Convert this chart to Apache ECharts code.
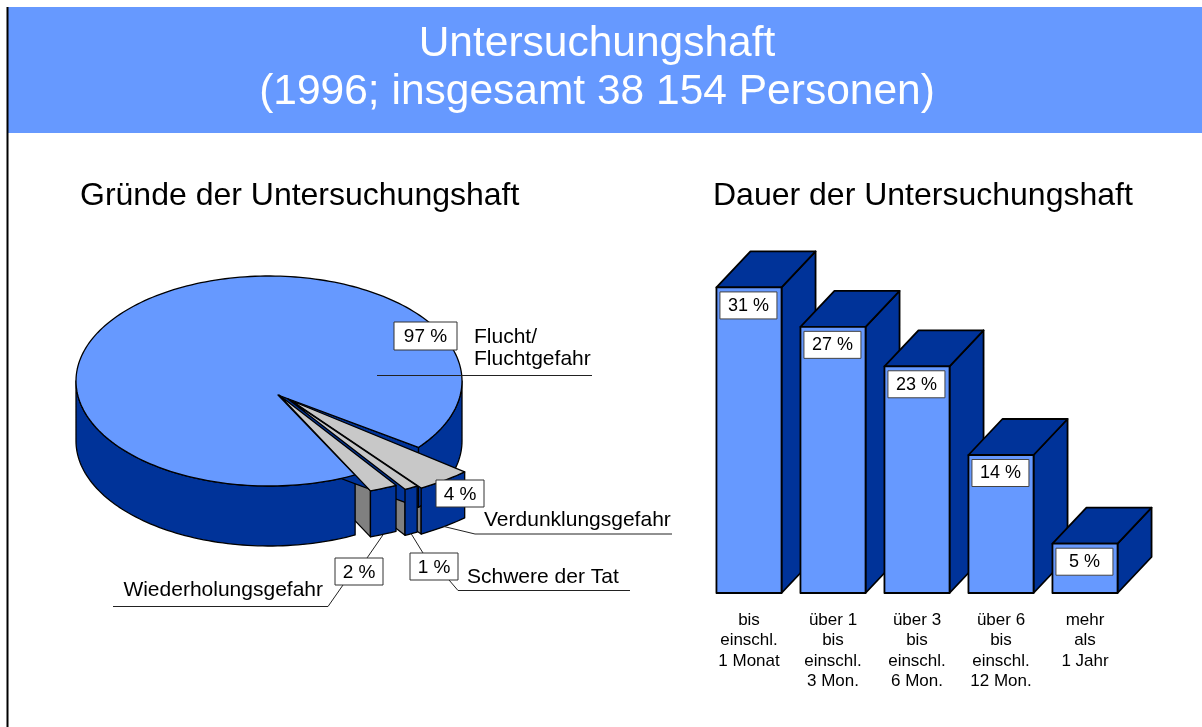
<!DOCTYPE html>
<html>
<head>
<meta charset="utf-8">
<script src="https://cdn.jsdelivr.net/npm/echarts@6/dist/echarts.min.js"></script>
<style>
  html, body { margin: 0; padding: 0; background: #fff; }
  #chart { width: 1202px; height: 727px; }
</style>
</head>
<body>
<div id="chart"></div>
<script>
// --- data ---
const reasonLabels = ['Flucht/\nFluchtgefahr', 'Verdunklungsgefahr', 'Schwere der Tat', 'Wiederholungsgefahr'];
const reasonShares = [97, 4, 1, 2];
const durationLabels = [
  'bis\neinschl.\n1 Monat',
  'über 1\nbis\neinschl.\n3 Mon.',
  'über 3\nbis\neinschl.\n6 Mon.',
  'über 6\nbis\neinschl.\n12 Mon.',
  'mehr\nals\n1 Jahr'
];
const durationShares = [31, 27, 23, 14, 5];

const FONT = '"Liberation Sans", Arial, Helvetica, sans-serif';
const LIGHT = '#6699FF';
const DARK = '#003399';

// --- pie layout (3d look) ---
const pieMain = { cx: 269, cy: 381, rx: 193, ry: 105, depth: 60 };
const pieCut = { cx: 277, cy: 395, rx: 236, ry: 104, depth: 46 };   // pulled-out slices
const explode = [[0, 0], [15, 6], [11, 4], [2, 0]];
const cutRotate = 3.7;
const pieStart = 63.5;

// slice angles from the shares
const pieTotal = reasonShares.reduce((s, v) => s + v, 0);
const sliceAngles = [];
let acc = pieStart;
reasonShares.forEach(v => {
  const span = v / pieTotal * 360;
  sliceAngles.push([acc, acc + span]);
  acc += span;
});

// label boxes / leader lines (layout only)
const pieLabelLayout = [
  { box: [394, 322, 63, 28], toBox: null, tail: [[377, 375.5], [592, 375.5]], text: [474, 348, 'left'] },
  { box: [436, 480, 48, 27], toBox: [475, 534], tail: [[475, 534], [672, 534]], text: [484, 520, 'left'] },
  { box: [410, 553, 48, 27], toBox: [423, 553], tail: [[449, 580], [458, 590.5], [630, 590.5]], text: [467, 577, 'left'] },
  { box: [335, 558, 48, 27], toBox: [367, 558], tail: [[343, 585], [328, 606.5], [113, 606.5]], text: [323, 590, 'right'] }
];

function arc(f, ox, oy, a0, a1, dy) {
  const pts = [];
  const n = Math.max(2, Math.ceil(Math.abs(a1 - a0) / 1.5));
  for (let k = 0; k <= n; k++) {
    const a = (a0 + (a1 - a0) * k / n) * Math.PI / 180;
    pts.push([f.cx + ox + f.rx * Math.cos(a), f.cy + oy + f.ry * Math.sin(a) + dy]);
  }
  return pts;
}

function renderSlice(params, api) {
  const i = params.dataIndex;
  const share = api.value(0);
  const isMain = i === 0;
  const rot = isMain ? 0 : cutRotate;
  const a0 = sliceAngles[i][0] + rot, a1 = sliceAngles[i][1] + rot;
  const f = isMain ? pieMain : pieCut;
  const [ox, oy] = explode[i];
  const topColor = isMain ? LIGHT : '#C8C8C8';
  const cutColor = isMain ? DARK : '#808080';
  const zBase = isMain ? 2 : 5 + i;
  // the main slice's cut meets the tip of the pulled-out group
  const c = isMain ? [pieCut.cx + 1, pieCut.cy] : [f.cx + ox, f.cy + oy];
  const children = [];
  const stroke = { stroke: '#000', lineWidth: 1.3, lineJoin: 'round' };

  // radial cut faces that face the viewer
  const radial = a => {
    const r = a * Math.PI / 180;
    const p = [f.cx + ox + f.rx * Math.cos(r), f.cy + oy + f.ry * Math.sin(r)];
    children.push({
      type: 'polygon', z2: isMain ? 3 : 1,
      shape: { points: [c, p, [p[0], p[1] + f.depth], [c[0], c[1] + f.depth]] },
      style: Object.assign({ fill: cutColor }, stroke)
    });
  };
  if (Math.cos(a1 * Math.PI / 180) > 0) radial(a1);
  if (Math.cos(a0 * Math.PI / 180) < 0) radial(a0);

  // outer curved faces (front half only)
  [-360, 0, 360, 720].forEach(b => {
    const s = Math.max(a0, b), e = Math.min(a1, b + 180);
    if (e > s) {
      children.push({
        type: 'polygon', z2: zBase,
        shape: { points: arc(f, ox, oy, s, e, 0).concat(arc(f, ox, oy, e, s, f.depth)) },
        style: Object.assign({ fill: DARK }, stroke)
      });
    }
  });

  // top face
  children.push({
    type: 'polygon', z2: zBase + (isMain ? 2 : 3),
    shape: { points: [c].concat(arc(f, ox, oy, a0, a1, 0)) },
    style: Object.assign({ fill: topColor }, stroke)
  });

  // label
  const L = pieLabelLayout[i];
  const lineStyle = { stroke: '#222', lineWidth: 1, fill: null };
  if (L.toBox) {
    const m = (a0 + a1) / 2 * Math.PI / 180;
    const anchor = [c[0] + f.rx * Math.cos(m), c[1] + f.ry * Math.sin(m) + f.depth];
    children.push({ type: 'polyline', z2: 50, shape: { points: [anchor, L.toBox] }, style: lineStyle });
  }
  children.push({ type: 'polyline', z2: 50, shape: { points: L.tail }, style: lineStyle });
  children.push({
    type: 'rect', z2: 60,
    shape: { x: L.box[0], y: L.box[1], width: L.box[2], height: L.box[3] },
    style: { fill: '#fff', stroke: '#333', lineWidth: 1 }
  });
  children.push({
    type: 'text', z2: 61,
    style: {
      text: share + ' %', x: L.box[0] + L.box[2] / 2, y: L.box[1] + L.box[3] / 2 + 1,
      align: 'center', verticalAlign: 'middle', fontSize: 19, fontFamily: FONT, fill: '#000'
    }
  });
  children.push({
    type: 'text', z2: 61,
    style: {
      text: reasonLabels[i], x: L.text[0], y: L.text[1],
      align: L.text[2], verticalAlign: 'middle', fontSize: 21, lineHeight: 22, fontFamily: FONT, fill: '#000'
    }
  });
  return { type: 'group', children: children };
}

// --- 3d bars ---
const barDepthX = 34, barDepthY = 36;
function renderBar(params, api) {
  const idx = api.value(0);
  const v = api.value(1);
  const top = api.coord([idx, v]);
  const base = api.coord([idx, 0]);
  const band = api.size([1, 0])[0];
  const w = band * 0.775;
  const x0 = top[0] - w / 2, x1 = x0 + w;
  const t = top[1], b = base[1];
  const stroke = { stroke: '#000', lineWidth: 1.8, lineJoin: 'round' };
  return {
    type: 'group',
    children: [
      { type: 'polygon', shape: { points: [[x1, t], [x1 + barDepthX, t - barDepthY], [x1 + barDepthX, b - barDepthY], [x1, b]] },
        style: Object.assign({ fill: DARK }, stroke) },
      { type: 'polygon', shape: { points: [[x0, t], [x0 + barDepthX, t - barDepthY], [x1 + barDepthX, t - barDepthY], [x1, t]] },
        style: Object.assign({ fill: DARK }, stroke) },
      { type: 'rect', shape: { x: x0, y: t, width: w, height: b - t },
        style: Object.assign({ fill: LIGHT }, stroke) },
      { type: 'rect', shape: { x: x0 + 3.5, y: t + 4.5, width: 57, height: 27 },
        style: { fill: '#fff', stroke: '#444', lineWidth: 1 } },
      { type: 'text', style: { text: v + ' %', x: x0 + 32, y: t + 18.5, align: 'center', verticalAlign: 'middle',
        fontSize: 18, fontFamily: FONT, fill: '#000' } }
    ]
  };
}

const chart = echarts.init(document.getElementById('chart'), null, { renderer: 'canvas' });
chart.setOption({
  animation: false,
  backgroundColor: '#fff',
  graphic: [
    { type: 'rect', silent: true, shape: { x: 8, y: 7, width: 1194, height: 126 }, style: { fill: LIGHT } },
    { type: 'line', silent: true, shape: { x1: 7.5, y1: 7, x2: 7.5, y2: 727 }, style: { stroke: '#000', lineWidth: 2 } },
    { type: 'text', silent: true, style: { text: 'Untersuchungshaft', x: 597, y: 44, align: 'center', verticalAlign: 'middle',
      fontSize: 42.5, fontFamily: FONT, fill: '#fff' } },
    { type: 'text', silent: true, style: { text: '(1996; insgesamt 38 154 Personen)', x: 597, y: 92, align: 'center', verticalAlign: 'middle',
      fontSize: 42.5, fontFamily: FONT, fill: '#fff' } },
    { type: 'text', silent: true, style: { text: 'Gründe der Untersuchungshaft', x: 80, y: 196, align: 'left', verticalAlign: 'middle',
      fontSize: 32, fontFamily: FONT, fill: '#000' } },
    { type: 'text', silent: true, style: { text: 'Dauer der Untersuchungshaft', x: 713, y: 196, align: 'left', verticalAlign: 'middle',
      fontSize: 32, fontFamily: FONT, fill: '#000' } }
  ],
  grid: { left: 707, top: 248, width: 420, height: 345, outerBoundsMode: 'none' },
  xAxis: {
    type: 'category',
    data: durationLabels,
    axisLine: { show: false },
    axisTick: { show: false },
    axisLabel: { interval: 0, fontSize: 17, lineHeight: 20.5, color: '#000', margin: 17, fontFamily: FONT }
  },
  yAxis: { type: 'value', min: 0, max: 35, show: false },
  series: [
    {
      type: 'custom',
      coordinateSystem: 'cartesian2d',
      silent: true,
      data: durationShares.map((v, i) => [i, v]),
      renderItem: renderBar
    },
    {
      type: 'custom',
      coordinateSystem: 'none',
      silent: true,
      data: reasonShares,
      renderItem: renderSlice
    }
  ]
});
</script>
</body>
</html>
